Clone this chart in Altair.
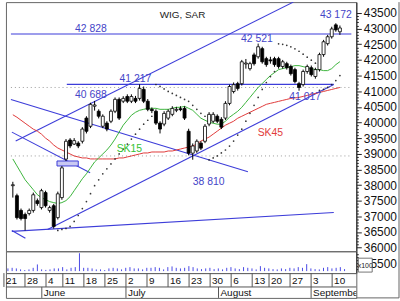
import altair as alt
import pandas as pd

# ---------------- data ----------------
holidays = ["2012-06-07", "2012-08-15"]
dates = [d for d in pd.bdate_range("2012-05-21", "2012-09-12") if d.strftime("%Y-%m-%d") not in holidays]

open_ = [37980, 37660, 37190, 37060, 37090, 37190, 37500, 37280, 37760, 37190,
         37340, 36960, 37600, 38830, 39440, 39310, 39340, 39400, 40140, 39880,
         40520, 40360, 39880, 39980, 40040, 40360, 40740, 40680, 40830, 40680,
         40770, 40770, 41060, 40680, 40420, 40360, 39980, 39950, 40140, 40260,
         40390, 40440, 40450, 39720, 39020, 39090, 39340, 39400, 39950, 40040,
         40200, 40100, 40140, 40610, 40990, 41240, 41240, 41870, 41720, 42160,
         42100, 42360, 42040, 42000, 42040, 42040, 41790, 41880, 41790, 41690,
         41240, 41210, 41630, 41750, 41470, 41690, 42170, 42520, 42740, 43120,
         42900]
close = [38010, 36960, 36930, 36930, 37190, 37690, 37410, 37820, 37340, 37280,
         36680, 37720, 38550, 39400, 39250, 39420, 39250, 39790, 39720, 40580,
         40560, 40200, 40200, 39790, 40360, 40740, 40140, 40770, 40680, 40830,
         40680, 41090, 40680, 40420, 40380, 39980, 39790, 40290, 40360, 40450,
         40420, 40410, 40140, 39020, 39250, 39400, 39180, 39880, 40260, 40260,
         40040, 39850, 40610, 41150, 41210, 41090, 41940, 41900, 41880, 41880,
         42420, 41940, 41850, 41970, 41850, 41790, 41940, 41750, 41560, 41310,
         41120, 41630, 41790, 41530, 41690, 42170, 42580, 42740, 42990, 42960,
         43020]
high = [38105, 37725, 37250, 37120, 37250, 37760, 37570, 37880, 37820, 37340,
        37400, 37790, 38610, 39470, 39500, 39500, 39400, 39850, 40200, 40630,
        40688, 40420, 40260, 40040, 40420, 40800, 40800, 40840, 40900, 40900,
        40850, 41217, 41150, 40750, 40480, 40420, 40040, 40360, 40420, 40520,
        40500, 40520, 40520, 39800, 39330, 39460, 39400, 39950, 40330, 40330,
        40260, 40170, 40680, 41210, 41280, 41300, 42000, 42030, 41940, 42230,
        42521, 42420, 42100, 42100, 42100, 42100, 42000, 41940, 41850, 41750,
        41300, 41690, 41850, 41820, 41750, 42230, 42640, 42800, 43060, 43172,
        43100]
low = [37600, 36900, 36870, 36550, 37030, 37120, 37340, 37220, 37280, 37120,
       36610, 36900, 37530, 38770, 39180, 39280, 39180, 39330, 39650, 39820,
       40380, 40130, 39820, 39720, 39980, 40300, 40080, 40620, 40620, 40620,
       40620, 40700, 40620, 40360, 40300, 39920, 39650, 39880, 40080, 40200,
       40330, 40360, 40080, 38950, 38810, 39030, 39120, 39340, 39880, 39980,
       39980, 39790, 40080, 40550, 40930, 41020, 41180, 41720, 41660, 41820,
       42040, 41880, 41780, 41880, 41780, 41720, 41720, 41690, 41500, 41250,
       41017, 41150, 41560, 41470, 41400, 41630, 42100, 42460, 42680, 42900,
       42800]
sk15 = [38835, 38613, 38391, 38169, 38010, 37852, 37693, 37598, 37535, 37471,
        37440, 37408, 37440, 37503, 37630, 37820, 38010, 38201, 38360, 38550,
        38740, 38867, 38994, 39121, 39280, 39470, 39692, 39914, 40072, 40231,
        40326, 40390, 40421, 40453, 40453, 40453, 40421, 40421, 40421, 40453,
        40485, 40485, 40516, 40453, 40390, 40263, 40136, 40072, 40009, 39977,
        39945, 39945, 40041, 40168, 40263, 40358, 40485, 40643, 40802, 40961,
        41119, 41246, 41373, 41500, 41595, 41690, 41722, 41754, 41785, 41817,
        41817, 41785, 41754, 41722, 41690, 41690, 41658, 41658, 41722, 41849,
        41944]
sk45 = [40247, 40168, 40072, 39977, 39882, 39787, 39723, 39628, 39501, 39406,
        39279, 39184, 39121, 39057, 38994, 38930, 38899, 38867, 38867, 38835,
        38835, 38835, 38835, 38835, 38835, 38835, 38867, 38867, 38899, 38930,
        38962, 38994, 39026, 39026, 39057, 39057, 39057, 39057, 39089, 39089,
        39121, 39152, 39184, 39216, 39248, 39311, 39406, 39470, 39533, 39628,
        39723, 39819, 39914, 39977, 40041, 40136, 40199, 40263, 40326, 40390,
        40453, 40516, 40580, 40612, 40643, 40675, 40707, 40738, 40770, 40786,
        40802, 40834, 40865, 40897, 40929, 40961, 40992, 41024, 41056, 41088,
        41119]
sar = [None, None, None, None, None, None, None, None, None, None, None,
       36551, 36583, 36615, 36678, 36837, 37027, 37249, 37471, 37725, 37979,
       38169, 38359, 38518, 38677, 38835, 38994, 39152, 39311, 39470, 39628,
       39787, 39945, 40072, 40199,
       41214, 41151, 41072, 40992, 40929, 40865, 40802, 40738, 40675, 40548,
       40421, 40294, 40199,
       38804, 38867, 38931, 39026, 39121, 39248, 39406, 39597, 39787, 40041,
       40294, 40548, 40802, 41056, 41278, 41468, 41627,
       42515, 42499, 42467, 42420, 42356, 42277, 42182, 42087, 41992, 41896,
       41024, 41056, 41119, 41214, 41341, 41500]
volume = [270, 330, 270, 170, 100, 170, 330, 670, 170, 120,
          170, 270, 270, 400, 170, 330, 400, 1800, 330, 330,
          270, 170, 170, 100, 270, 330, 270, 170, 330, 400,
          270, 270, 170, 330, 330, 400, 330, 170, 400, 470,
          330, 270, 330, 500, 400, 270, 200, 270, 330, 200,
          270, 170, 330, 400, 270, 200, 400, 330, 270, 170,
          500, 330, 270, 200, 170, 270, 200, 330, 270, 400,
          330, 700, 270, 200, 170, 330, 400, 270, 330, 400,
          200]

# trend lines (start day, start value, end day, end value)
tr_k1 = [0.7, 8.5, -0.47, -0.24, -0.24, -0.24]
tr_v1 = [39406, 36583, 40738, 39692, 36551, 36520]
tr_k2 = [68.6, 78.5, 57.5, 18.9, 3.07, 78.5]
tr_v2 = [43847, 41214, 38423, 38391, 36298, 37122]

# horizontal levels
lvl_v = [42828, 41217]
lvl_k1 = [-0.47, 13.2]
lvl_k2 = [82.8, 78.5]

# dotted reference lines
ref_v = [41119, 38931]

# annotations
ann_text = ["WIG, SAR", "42 828", "41 217", "40 688", "42 521", "43 172", "41 017", "38 810", "SK15", "SK45"]
ann_k = [41.5, 19.1, 30.0, 19.1, 59.7, 79.0, 71.5, 47.9, 28.5, 63.0]
ann_v = [43435, 42991, 41405, 40881, 42673, 43435, 40802, 38106, 39153, 39660]

BLUE = "#3d3dd9"
LBLUE = "#4545c8"
ann_color = ["#222222"] + [LBLUE] * 7 + ["#33c233", "#e23c3c"]
ann_size = [10] + [10.5] * 7 + [10.5, 10.5]

month_label = ["June", "July", "August", "September"]

# ---------------- frames ----------------
k = list(range(len(dates)))
cdf = pd.DataFrame({"k": k, "o": open_, "h": high, "l": low, "c": close,
                    "sk15": sk15, "sk45": sk45, "sar": sar, "vol": volume})
sardf = cdf.dropna(subset=["sar"])
trdf = pd.DataFrame({"k1": tr_k1, "v1": tr_v1, "k2": tr_k2, "v2": tr_v2})
lvldf = pd.DataFrame({"v": lvl_v, "k1": lvl_k1, "k2": lvl_k2})
refdf = pd.DataFrame({"v": ref_v, "k1": [-0.47, -0.47], "k2": [82.8, 82.8]})
anndf = pd.DataFrame({"t": ann_text, "k": ann_k, "v": ann_v, "col": ann_color, "fs": ann_size})
gapdf = pd.DataFrame({"k1": [10.8], "k2": [16.0], "v1": [high[12]], "v2": [low[13]]})

wk_idx = [i for i in k if i == 0 or dates[i].isocalendar()[1] != dates[i - 1].isocalendar()[1]]
wkdf = pd.DataFrame({"sep": [i - 0.95 for i in wk_idx], "lab": [str(dates[i].day) for i in wk_idx]})
mo_idx = [i for i in k if i > 0 and dates[i].month != dates[i - 1].month]
modf = pd.DataFrame({"sep": [i - 0.95 for i in mo_idx], "lab": month_label})

W, H = 353, 251
xs = alt.Scale(domain=[-0.47, 82.8], nice=False, zero=False)
ys = alt.Scale(domain=[35885, 43847], nice=False, zero=False)

cond_tick = {"condition": {"test": "datum.value % 500 === 0", "value": 5}, "value": 2}


def price_axis(vals):
    return alt.Axis(orient="right", values=vals, format="d",
                    labelExpr="datum.value % 500 === 0 ? datum.label : ''",
                    tickSize=cond_tick, labelOverlap=False, labelFlush=False,
                    labelFontSize=12, labelFont="Liberation Sans", labelColor="#111111",
                    labelPadding=2, domainColor="#222222", tickColor="#222222",
                    grid=False, title=None)


yaxis = price_axis(list(range(36000, 43600, 100)))


def X(f):
    return alt.X(f, type="quantitative", scale=xs, axis=None)


def Y(f):
    return alt.Y(f, type="quantitative", scale=ys, axis=yaxis)


one = pd.DataFrame({"a": [0]})

refs = alt.Chart(refdf).mark_rule(color="#9a9a9a", strokeDash=[1, 3], strokeWidth=1).encode(
    x=X("k1"), x2="k2", y=Y("v"))
trends = alt.Chart(trdf).mark_rule(color=BLUE, strokeWidth=1.1, clip=True).encode(
    x=X("k1"), x2="k2", y=Y("v1"), y2="v2")
levels = alt.Chart(lvldf).mark_rule(color=BLUE, strokeWidth=1.1).encode(
    x=X("k1"), x2="k2", y=Y("v"))
gap = alt.Chart(gapdf).mark_rect(fill="#c9c9f2", stroke=BLUE, strokeWidth=1).encode(
    x=X("k1"), x2="k2", y=Y("v1"), y2="v2")
red = alt.Chart(cdf).mark_line(color="#e03a3a", strokeWidth=1).encode(x=X("k"), y=Y("sk45"))
green = alt.Chart(cdf).mark_line(color="#3cb43c", strokeWidth=1).encode(x=X("k"), y=Y("sk15"))
dots = alt.Chart(sardf).mark_circle(size=3, color="#222222", opacity=0.9).encode(x=X("k"), y=Y("sar"))
wicks = alt.Chart(cdf).mark_rule(color="black", strokeWidth=1).encode(x=X("k"), y=Y("l"), y2="h")
bodies = alt.Chart(cdf).mark_bar(size=3, stroke="black", strokeWidth=0.8).encode(
    x=X("k"), y=Y("o"), y2="c",
    fill=alt.condition("datum.c >= datum.o", alt.value("white"), alt.value("black")))
texts = alt.Chart(anndf).mark_text(font="Liberation Sans", align="center", baseline="middle").encode(
    x=X("k"), y=Y("v"), text="t:N", color=alt.Color("col:N", scale=None),
    size=alt.Size("fs:Q", scale=None))
frame_r = alt.Chart(one).mark_rule(color="#666666", strokeWidth=1).encode(
    x=alt.value(396), y=alt.value(0), y2=alt.value(298))

main = alt.layer(refs, trends, levels, gap, red, green, dots, wicks, bodies, texts, frame_r).properties(
    width=W, height=H)

# volume panel
vol = alt.Chart(cdf).mark_rule(color="#4a4ae6", strokeWidth=1).encode(
    x=X("k"), y=alt.Y("vol:Q", scale=alt.Scale(domain=[-200, 2000], nice=False), axis=None),
    y2=alt.datum(0))
paxis = alt.Chart(pd.DataFrame({"p": [35500]})).mark_point(opacity=0).encode(
    x=alt.value(0),
    y=alt.Y("p:Q", scale=alt.Scale(domain=[35187, 35885], nice=False, zero=False),
            axis=price_axis(list(range(35300, 35900, 100)))))
box = alt.Chart(one).mark_rect(fill="white", stroke="#555555", strokeWidth=0.8).encode(
    x=alt.value(355), x2=alt.value(369), y=alt.value(7), y2=alt.value(21))
boxtxt = alt.Chart(one).mark_text(text="x100", fontSize=7, font="Liberation Sans", color="#222222").encode(
    x=alt.value(362), y=alt.value(14.5))
volpanel = alt.layer(vol, paxis, box, boxtxt).resolve_scale(y="independent").properties(width=W, height=22)

# date panel
wk_rules = alt.Chart(wkdf).mark_rule(color="#555555").encode(x=X("sep"), y=alt.value(0), y2=alt.value(14))
wk_text = alt.Chart(wkdf).mark_text(align="left", baseline="middle", dx=2, fontSize=10,
                                    font="Liberation Sans", color="#111111", clip=True).encode(
    x=X("sep"), y=alt.value(7.5), text="lab:N")
mid = alt.Chart(one).mark_rule(color="#555555").encode(x=alt.value(0), x2=alt.value(W), y=alt.value(14))
mo_rules = alt.Chart(modf).mark_rule(color="#555555").encode(x=X("sep"), y=alt.value(14), y2=alt.value(25))
mo_text = alt.Chart(modf).mark_text(align="left", baseline="middle", dx=2, fontSize=10,
                                    font="Liberation Sans", color="#111111", clip=True).encode(
    x=X("sep"), y=alt.value(20), text="lab:N")
bottom_ext = alt.Chart(one).mark_rule(color="#666666").encode(x=alt.value(W), x2=alt.value(396), y=alt.value(25))
datepanel = alt.layer(wk_rules, wk_text, mid, mo_rules, mo_text, bottom_ext).properties(width=W, height=25)

chart = alt.vconcat(main, volpanel, datepanel, spacing=0, bounds="flush").properties(
    padding={"left": 2, "top": 0, "right": 0, "bottom": 2},
    background="white"
).configure_view(stroke="#666666", strokeWidth=1).configure_text(font="Liberation Sans")

chart.save("out.html", embed_options={"renderer": "svg", "actions": False})
